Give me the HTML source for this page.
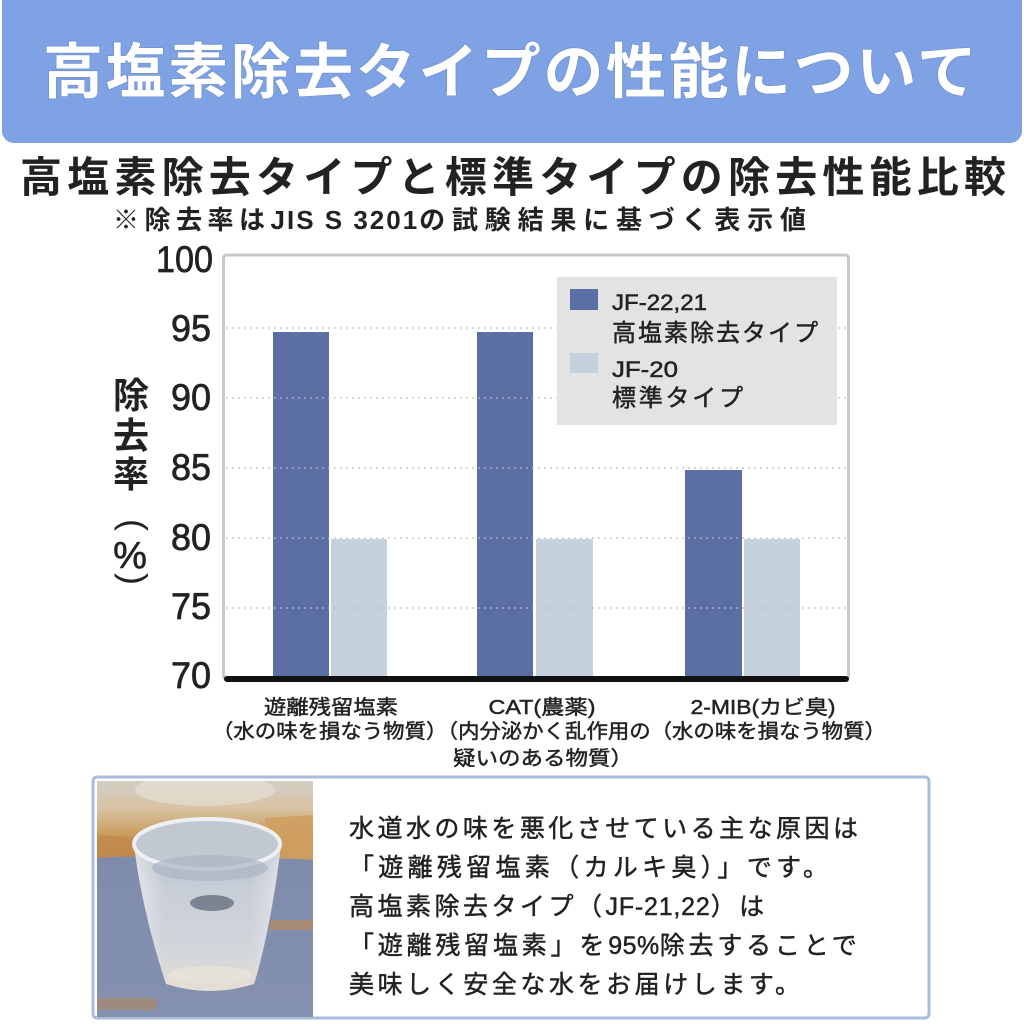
<!DOCTYPE html>
<html><head><meta charset="utf-8">
<style>
html,body{margin:0;padding:0;background:#fff;}
svg{display:block;}
text{font-family:"Liberation Sans","Noto Sans CJK JP",sans-serif;}
</style></head>
<body>
<svg width="1024" height="1024" viewBox="0 0 1024 1024" xmlns="http://www.w3.org/2000/svg">
<defs>
  <linearGradient id="photoTop" x1="0" y1="0" x2="0" y2="1">
    <stop offset="0" stop-color="#d4cec6"/>
    <stop offset="0.35" stop-color="#d8c3a2"/>
    <stop offset="0.7" stop-color="#c99a5c"/>
    <stop offset="1" stop-color="#b8864c"/>
  </linearGradient>
  <linearGradient id="cloth" x1="0" y1="0" x2="0" y2="1">
    <stop offset="0" stop-color="#7f8bab"/>
    <stop offset="1" stop-color="#8490af"/>
  </linearGradient>
  <linearGradient id="glassBody" x1="0" y1="0" x2="0" y2="1">
    <stop offset="0" stop-color="#b4bcc8"/>
    <stop offset="0.3" stop-color="#c8ced8"/>
    <stop offset="0.75" stop-color="#d3d6da"/>
    <stop offset="1" stop-color="#e5dfd4"/>
  </linearGradient>
  <linearGradient id="glassSide" x1="0" y1="0" x2="1" y2="0">
    <stop offset="0" stop-color="#ffffff" stop-opacity="0.55"/>
    <stop offset="0.2" stop-color="#ffffff" stop-opacity="0"/>
    <stop offset="0.8" stop-color="#ffffff" stop-opacity="0"/>
    <stop offset="1" stop-color="#ffffff" stop-opacity="0.45"/>
  </linearGradient>
  <clipPath id="photoClip"><rect x="97" y="781" width="216" height="236"/></clipPath>
</defs>

<!-- Header -->
<rect x="2" y="-14" width="1020" height="157" rx="12" ry="12" fill="#7ea2e4"/>
<text x="43" y="93" font-size="60" font-weight="bold" fill="#ffffff" stroke="#5a74a8" stroke-opacity="0.35" stroke-width="1.5" paint-order="stroke" textLength="934" lengthAdjust="spacing">高塩素除去タイプの性能について</text>

<!-- Subtitle -->
<text x="20" y="192" font-size="42" font-weight="bold" fill="#222" textLength="986" lengthAdjust="spacing">高塩素除去タイプと標準タイプの除去性能比較</text>
<text x="113" y="229" font-size="26" font-weight="bold" fill="#222"><tspan letter-spacing="5.5">※除去率は</tspan><tspan letter-spacing="2">JIS S 3201</tspan><tspan letter-spacing="6.8">の試験結果に基づく表示値</tspan></text>

<!-- Plot frame -->
<rect x="223.5" y="255" width="625" height="424" rx="3" fill="#ffffff" stroke="#c8c8c8" stroke-width="3"/>

<!-- Bars -->
<rect x="273" y="332" width="56" height="346" fill="#5b6fa5"/>
<rect x="331" y="539" width="56" height="139" fill="#c6d1de"/>
<rect x="477" y="332" width="56" height="346" fill="#5b6fa5"/>
<rect x="536" y="539" width="57" height="139" fill="#c6d1de"/>
<rect x="685" y="470" width="57" height="208" fill="#5b6fa5"/>
<rect x="744" y="539" width="56" height="139" fill="#c6d1de"/>

<!-- Gridlines -->
<g stroke="#b9bdc8" stroke-width="1.5" stroke-dasharray="2 4" opacity="0.8">
  <line x1="226" y1="328" x2="846" y2="328"/>
  <line x1="226" y1="398" x2="846" y2="398"/>
  <line x1="226" y1="468" x2="846" y2="468"/>
  <line x1="226" y1="538" x2="846" y2="538"/>
  <line x1="226" y1="608" x2="846" y2="608"/>
</g>

<!-- Legend -->
<rect x="557" y="277" width="280" height="148" fill="#e3e3e3"/>
<rect x="570" y="289" width="28" height="21" fill="#5b6fa5"/>
<rect x="570" y="353" width="28" height="20" fill="#c6d1de"/>
<g fill="#222" stroke="#222" stroke-width="0.5">
<text x="612" y="310" font-size="22" textLength="95" lengthAdjust="spacingAndGlyphs">JF-22,21</text>
<text x="612" y="341" font-size="24" textLength="206" lengthAdjust="spacing">高塩素除去タイプ</text>
<text x="612" y="377" font-size="22" textLength="66" lengthAdjust="spacingAndGlyphs">JF-20</text>
<text x="612" y="406" font-size="24" textLength="131" lengthAdjust="spacing">標準タイプ</text>
</g>

<!-- X axis -->
<line x1="227" y1="679" x2="846" y2="679" stroke="#111" stroke-width="6" stroke-linecap="round"/>

<!-- Y tick labels -->
<g font-size="37" fill="#222" stroke="#222" stroke-width="0.7" text-anchor="end">
  <text x="213" y="272" textLength="57" lengthAdjust="spacingAndGlyphs">100</text>
  <text x="211" y="341" textLength="40" lengthAdjust="spacingAndGlyphs">95</text>
  <text x="211" y="410" textLength="40" lengthAdjust="spacingAndGlyphs">90</text>
  <text x="211" y="480" textLength="40" lengthAdjust="spacingAndGlyphs">85</text>
  <text x="211" y="550" textLength="40" lengthAdjust="spacingAndGlyphs">80</text>
  <text x="211" y="619" textLength="40" lengthAdjust="spacingAndGlyphs">75</text>
  <text x="211" y="688" textLength="40" lengthAdjust="spacingAndGlyphs">70</text>
</g>

<!-- Y axis label -->
<g font-size="36" font-weight="bold" fill="#222" text-anchor="middle">
  <text x="131" y="408">除</text>
  <text x="131" y="448">去</text>
  <text x="131" y="487">率</text>
</g>
<text x="0" y="9" font-size="36" fill="#222" text-anchor="middle" transform="translate(131 525) rotate(90)">(</text>
<text x="130" y="568" font-size="38" fill="#222" stroke="#222" stroke-width="0.6" text-anchor="middle">%</text>
<text x="0" y="9" font-size="36" fill="#222" text-anchor="middle" transform="translate(131 579) rotate(90)">)</text>

<!-- Category labels -->
<g font-size="20" fill="#222" stroke="#222" stroke-width="0.45">
  <text x="331" y="714" text-anchor="middle" textLength="134" lengthAdjust="spacingAndGlyphs">遊離残留塩素</text>
  <text x="542" y="714" text-anchor="middle" textLength="107" lengthAdjust="spacingAndGlyphs">CAT(農薬)</text>
  <text x="763" y="714" text-anchor="middle" textLength="145" lengthAdjust="spacingAndGlyphs">2-MIB(カビ臭)</text>
  <text x="212" y="738" textLength="674" lengthAdjust="spacingAndGlyphs">（水の味を損なう物質）（内分泌かく乱作用の（水の味を損なう物質）</text>
  <text x="453" y="765" textLength="180" lengthAdjust="spacingAndGlyphs">疑いのある物質）</text>
</g>

<!-- Bottom box -->
<rect x="93" y="777" width="836" height="241" rx="4" fill="#ffffff" stroke="#a9bcdc" stroke-width="3"/>

<!-- Photo -->
<g clip-path="url(#photoClip)">
  <rect x="97" y="781" width="216" height="236" fill="url(#cloth)"/>
  <rect x="97" y="781" width="216" height="78" fill="url(#photoTop)"/>
  <ellipse cx="205" cy="790" rx="70" ry="16" fill="#e8e2d8" opacity="0.6"/>
  <path d="M97 835 L140 838 L150 866 L97 868 Z" fill="#c28b4c" opacity="0.9"/>
  <path d="M265 818 L313 815 L313 860 L270 863 Z" fill="#cf9f62" opacity="0.9"/>
  <path d="M97 858 Q150 854 200 862 Q260 856 313 860 L313 880 L97 880 Z" fill="#7f8bab"/>
  <rect x="270" y="920" width="43" height="10" fill="#c0894d" opacity="0.6"/>
  <rect x="97" y="998" width="60" height="12" fill="#b8864f" opacity="0.5"/>
  <!-- glass -->
  <path d="M134 844 C140 900 158 960 166 984 Q210 998 254 984 C262 960 275 900 281 844 Z" fill="url(#glassBody)"/>
  <path d="M134 844 C140 900 158 960 166 984 Q210 998 254 984 C262 960 275 900 281 844 Z" fill="url(#glassSide)"/>
  <ellipse cx="207" cy="844" rx="73" ry="25" fill="#c2c8d2" stroke="#eef1f4" stroke-width="4"/>
  <ellipse cx="210" cy="868" rx="58" ry="13" fill="#aeb5c3" opacity="0.7"/>
  <ellipse cx="212" cy="903" rx="22" ry="8" fill="#5a6273" opacity="0.7"/>
  <ellipse cx="210" cy="975" rx="42" ry="9" fill="#e9e3d8" opacity="0.8"/>
</g>

<!-- Bottom text -->
<g font-size="25" fill="#222" stroke="#222" stroke-width="0.45">
  <text x="349" y="837" textLength="509" lengthAdjust="spacing">水道水の味を悪化させている主な原因は</text>
  <text x="349" y="876" textLength="479" lengthAdjust="spacing">「遊離残留塩素（カルキ臭）」です。</text>
  <text x="349" y="915"><tspan letter-spacing="3.5">高塩素除去タイプ（</tspan><tspan letter-spacing="0.8">JF-21,22</tspan><tspan letter-spacing="3.5">）は</tspan></text>
  <text x="349" y="954"><tspan letter-spacing="3.8">「遊離残留塩素」を</tspan><tspan letter-spacing="0.5">95%</tspan><tspan letter-spacing="3.8">除去することで</tspan></text>
  <text x="349" y="993" textLength="451" lengthAdjust="spacing">美味しく安全な水をお届けします。</text>
</g>
</svg>
</body></html>
